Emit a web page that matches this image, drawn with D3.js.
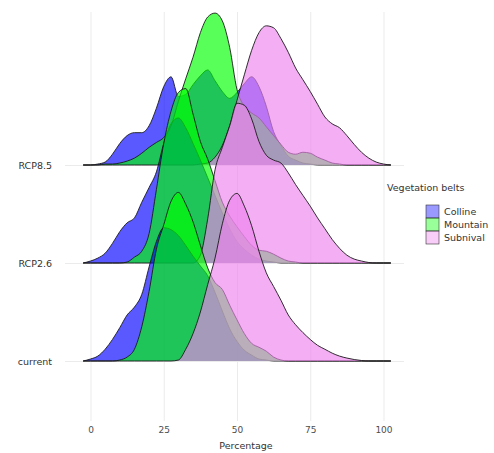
<!DOCTYPE html>
<html lang="en">
<head>
    <meta charset="UTF-8">
    <title>Vegetation belts</title>
    <script src="https://cdn.jsdelivr.net/npm/d3@7"></script>
    <style>
        body { margin: 0; background: #fff; }
        svg { font-family: "DejaVu Sans", Verdana, sans-serif; }
        .grid line { stroke: #ebebeb; stroke-width: 1; }
        .grid path { display: none; }
    </style>
</head>
<body>
<svg id="chart" width="494" height="453"></svg>
<script>
    // rows, bottom to top
    var scenarios = ["current", "RCP2.6", "RCP8.5"];
    var belts = ["Colline", "Mountain", "Subnival"];
    var beltColors = ["#0000ff", "#00ff00", "#ee82ee"];
    var xTicks = [0, 25, 50, 75, 100];

    // x positions of the density estimates (percentage)
    var percent = [-2.5, 0, 2.5, 5, 7.5, 10, 12.5, 15, 17.5, 20, 22.5, 25, 27.5, 30, 32.5, 35, 37.5, 40, 42.5, 45,
        47.5, 50, 52.5, 55, 57.5, 60, 62.5, 65, 67.5, 70, 72.5, 75, 77.5, 80, 82.5, 85, 87.5, 90, 92.5, 95, 97.5, 100, 102.5];

    // scaled density heights (1 = distance between two rows)
    var currentColline = [0, .02, .05, .12, .22, .34, .47, .55, .68, .96, 1.22, 1.36, 1.34, 1.28, 1.18, 1.07, .97, .87, .70, .51,
        .33, .20, .11, .06, .02, .01, 0, 0, 0, 0, 0, 0, 0, 0, 0, 0, 0, 0, 0, 0, 0, 0, 0];
    var currentMountain = [0, 0, 0, 0, 0, .01, .04, .12, .35, .71, 1.14, 1.39, 1.63, 1.72, 1.60, 1.42, 1.18, .95, .80, .73,
        .57, .42, .28, .18, .14, .10, .04, .01, 0, 0, 0, 0, 0, 0, 0, 0, 0, 0, 0, 0, 0, 0, 0];
    var currentSubnival = [0, 0, 0, 0, 0, 0, 0, 0, 0, 0, 0, 0, 0, .01, .12, .28, .50, .78, 1.05, 1.40,
        1.64, 1.71, 1.58, 1.38, 1.12, .90, .76, .62, .47, .37, .29, .22, .16, .12, .08, .05, .03, .015, .005, 0, 0, 0, 0];

    var rcp26Colline = [0, .02, .05, .10, .20, .32, .41, .46, .62, .77, .93, 1.22, 1.42, 1.48, 1.38, 1.22, 1.05, .87, .69, .51,
        .35, .22, .14, .08, .04, .02, .01, 0, 0, 0, 0, 0, 0, 0, 0, 0, 0, 0, 0, 0, 0, 0, 0];
    var rcp26Mountain = [0, 0, 0, 0, 0, 0, .01, .06, .12, .30, .75, 1.22, 1.55, 1.74, 1.78, 1.52, 1.24, 1.06, .84, .62,
        .48, .37, .27, .18, .13, .12, .09, .05, .02, .01, 0, 0, 0, 0, 0, 0, 0, 0, 0, 0, 0, 0, 0];
    var rcp26Subnival = [0, 0, 0, 0, 0, 0, 0, 0, 0, 0, 0, 0, 0, 0, 0, 0, .08, .45, .95, 1.18,
        1.40, 1.63, 1.61, 1.47, 1.24, 1.10, 1.05, 1.02, .92, .80, .69, .58, .46, .35, .24, .15, .08, .04, .02, .005, 0, 0, 0];

    var rcp85Colline = [0, 0, .01, .03, .11, .22, .30, .33, .33, .40, .58, .80, .90, .70, .72, .82, .91, .97, .86, .75,
        .68, .74, .83, .90, .80, .60, .34, .20, .09, .05, .02, .01, 0, 0, 0, 0, 0, 0, 0, 0, 0, 0, 0];
    var rcp85Mountain = [0, 0, 0, .01, .01, .02, .04, .07, .12, .18, .23, .28, .40, .65, .88, 1.10, 1.35, 1.51, 1.55, 1.47,
        1.20, .77, .60, .53, .48, .39, .30, .21, .13, .11, .13, .12, .08, .05, .02, .01, 0, 0, 0, 0, 0, 0, 0];
    var rcp85Subnival = [0, 0, 0, 0, 0, 0, 0, 0, 0, 0, 0, 0, 0, 0, 0, 0, .01, .02, .08, .20,
        .40, .66, .92, 1.17, 1.35, 1.42, 1.40, 1.29, 1.15, .99, .87, .75, .62, .49, .42, .38, .30, .21, .13, .07, .03, .01, 0];

    var densities = {
        "current": [currentColline, currentMountain, currentSubnival],
        "RCP2.6": [rcp26Colline, rcp26Mountain, rcp26Subnival],
        "RCP8.5": [rcp85Colline, rcp85Mountain, rcp85Subnival]
    };

    var svg = d3.select("#chart");
    var panel = {left: 65, right: 404, top: 12, bottom: 421};

    var x = d3.scaleLinear().domain([-8.7, 107]).range([panel.left, panel.right]);
    var y = d3.scalePoint().domain(scenarios).range([361, 165]);
    var ridge = d3.scaleLinear().domain([0, 1]).range([0, y.step()]);
    var color = d3.scaleOrdinal().domain(belts).range(beltColors);

    // grid
    svg.append("g")
        .attr("class", "grid")
        .attr("transform", "translate(0," + panel.bottom + ")")
        .call(d3.axisBottom(x).tickValues(xTicks).tickSize(-(panel.bottom - panel.top)).tickFormat(""));
    svg.append("g")
        .attr("class", "grid")
        .attr("transform", "translate(" + panel.left + ",0)")
        .call(d3.axisLeft(y).tickSize(-(panel.right - panel.left)).tickFormat(""));

    // ridges: top row first so lower rows sit in front
    var ridges = svg.append("g");
    scenarios.slice().reverse().forEach(function (sc) {
        var base = y(sc);
        var area = d3.area()
            .x(function (d) { return x(d[0]); })
            .y0(base)
            .y1(function (d) { return base - ridge(d[1]); })
            .curve(d3.curveMonotoneX);
        var line = area.lineY1();

        belts.forEach(function (b, i) {
            var pts = d3.zip(percent, densities[sc][i]);
            ridges.append("path")
                .attr("d", area(pts))
                .attr("fill", color(b))
                .attr("fill-opacity", 0.65);
            ridges.append("path")
                .attr("d", line(pts))
                .attr("fill", "none")
                .attr("stroke", "#1a1a1a")
                .attr("stroke-width", 0.9);
        });
    });

    // axes text
    var xAxis = svg.append("g")
        .attr("transform", "translate(0," + panel.bottom + ")")
        .call(d3.axisBottom(x).tickValues(xTicks).tickSize(0).tickPadding(6));
    xAxis.select(".domain").remove();
    xAxis.selectAll("text")
        .attr("fill", "#4d4d4d")
        .style("font-family", "DejaVu Sans")
        .style("font-size", "9px");

    var yAxis = svg.append("g")
        .attr("transform", "translate(" + 52 + ",0)")
        .call(d3.axisLeft(y).tickSize(0).tickPadding(0));
    yAxis.select(".domain").remove();
    yAxis.selectAll("text")
        .attr("fill", "#333")
        .style("font-family", "DejaVu Sans")
        .style("font-size", "9.5px");

    svg.append("text")
        .attr("x", 246)
        .attr("y", 449)
        .attr("text-anchor", "middle")
        .attr("fill", "#333")
        .style("font-size", "9.5px")
        .text("Percentage");

    // legend
    var legend = svg.append("g").attr("transform", "translate(387,0)");
    legend.append("text")
        .attr("x", 0)
        .attr("y", 191)
        .attr("fill", "#333")
        .style("font-size", "9.5px")
        .text("Vegetation belts");

    var keys = legend.selectAll(".key")
        .data(belts)
        .enter().append("g")
        .attr("transform", function (d, i) { return "translate(39," + (205 + i * 13) + ")"; });
    keys.append("rect")
        .attr("width", 13)
        .attr("height", 13)
        .attr("fill", function (d) { return color(d); })
        .attr("fill-opacity", 0.4)
        .attr("stroke", "#333")
        .attr("stroke-width", 0.6);
    keys.append("text")
        .attr("x", 18)
        .attr("y", 6.5)
        .attr("dy", "0.35em")
        .attr("fill", "#333")
        .style("font-size", "9.5px")
        .text(function (d) { return d; });
</script>
</body>
</html>
